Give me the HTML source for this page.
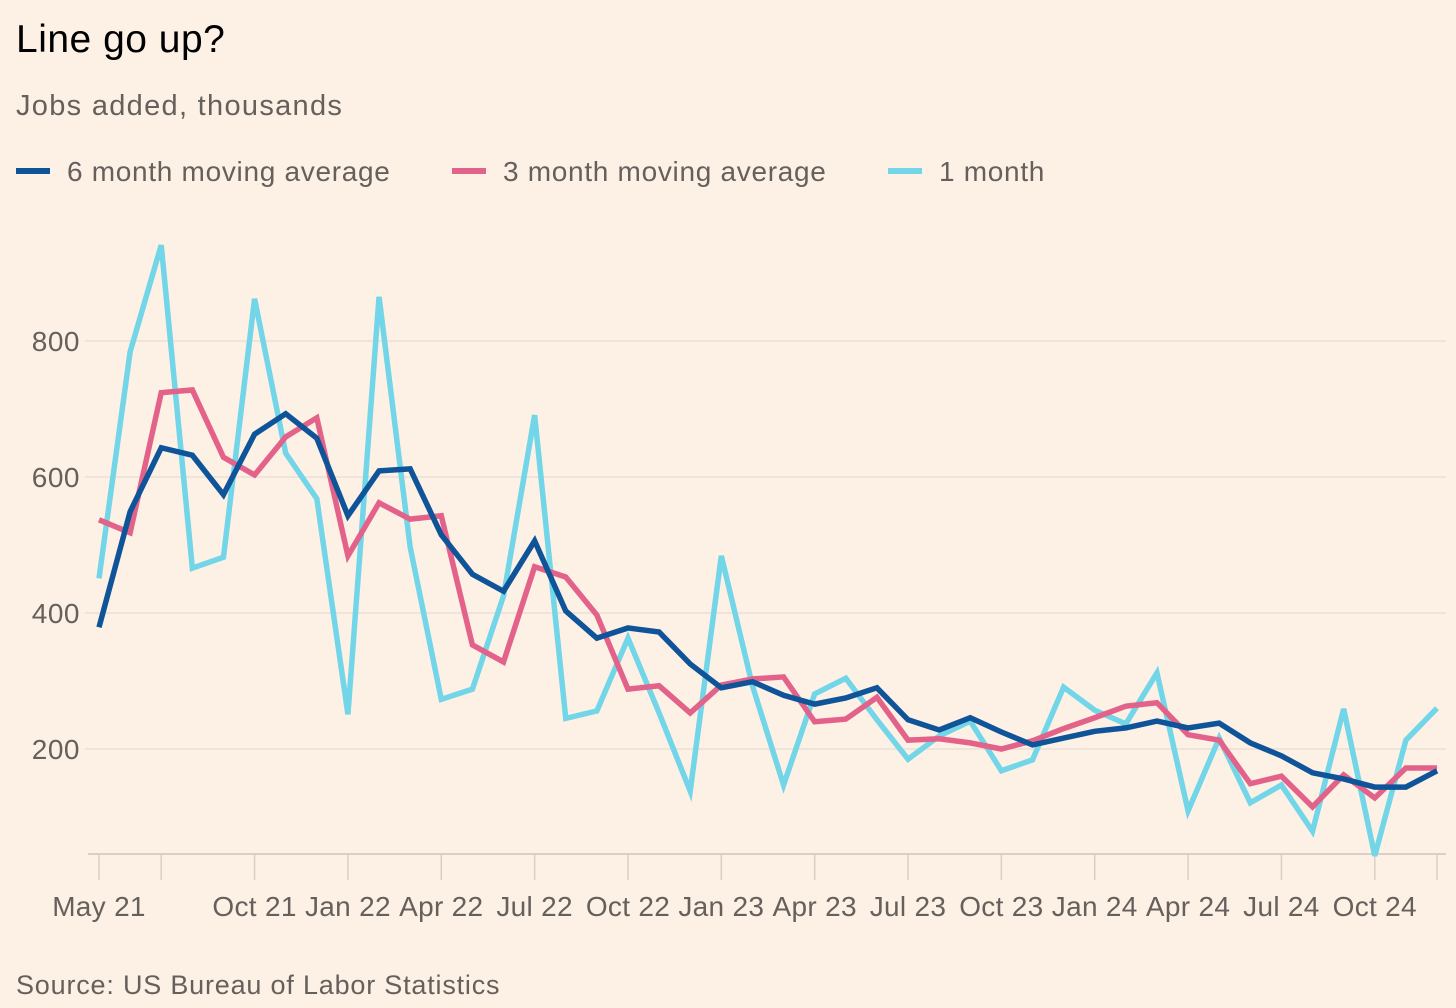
<!DOCTYPE html>
<html><head><meta charset="utf-8"><style>
body{margin:0;background:#fdf1e6;width:1456px;height:1008px;overflow:hidden;font-family:"Liberation Sans",sans-serif}
svg{position:absolute;left:0;top:0}
</style></head><body>
<svg id="c" width="1456" height="1008">
<text x="16" y="52" font-size="39" letter-spacing="0.5" fill="#000">Line go up?</text>
<text x="16" y="115" font-size="29" letter-spacing="1.3" fill="#66605c">Jobs added, thousands</text>
<g>
<rect x="16" y="168" width="34" height="6" fill="#0f5499"/>
<text x="67" y="181" font-size="28" letter-spacing="0.7" fill="#66605c">6 month moving average</text>
<rect x="452" y="168" width="34" height="6" fill="#e3628a"/>
<text x="503" y="181" font-size="28" letter-spacing="0.7" fill="#66605c">3 month moving average</text>
<rect x="888" y="168" width="34" height="6" fill="#72d6e8"/>
<text x="939" y="181" font-size="28" letter-spacing="0.7" fill="#66605c">1 month</text>
</g>
<g id="grid"></g><g id="lines"></g>
<text x="16" y="994" font-size="27" letter-spacing="0.8" fill="#66605c">Source: US Bureau of Labor Statistics</text>
</svg>
<script>
const oneMonth=[451,784,941,466,482,862,635,568,251,865,497,273,288,425,691,245,256,363,253,138,484,293,147,281,304,243,185,219,241,168,184,291,257,237,312,109,216,121,147,79,259,43,213,260];
const threeMonth=[537,518,724,728,629,603,659,687,484,562,538,543,353,328,468,453,397,288,293,253,294,303,306,240,244,276,213,215,209,200,212,230,246,263,268,221,213,149,160,115,162,128,172,172];
const sixMonth=[379,549,643,632,574,663,693,657,543,609,612,515,457,432,506,403,363,378,372,325,290,299,279,266,275,290,243,228,246,225,206,216,226,231,241,231,238,209,190,165,156,144,144,168];
const yTicks=[200,400,600,800];
const xTickIdx=[0,2,5,8,11,14,17,20,23,26,29,32,35,38,41,43];
const xLabels=[[0,"May 21"],[5,"Oct 21"],[8,"Jan 22"],[11,"Apr 22"],[14,"Jul 22"],[17,"Oct 22"],[20,"Jan 23"],[23,"Apr 23"],[26,"Jul 23"],[29,"Oct 23"],[32,"Jan 24"],[35,"Apr 24"],[38,"Jul 24"],[41,"Oct 24"]];
const NS="http://www.w3.org/2000/svg";
const x=i=>99+i*(1437-99)/43;
const y=v=>885-v*0.68;
const g=document.getElementById('grid'),L=document.getElementById('lines');
function mk(t,a,p){const e=document.createElementNS(NS,t);for(const k in a)e.setAttribute(k,a[k]);p.appendChild(e);return e;}
yTicks.forEach(v=>{
 const l=mk('line',{x1:85,x2:1446,y1:y(v),y2:y(v),stroke:'#e9dfd5','stroke-width':1.5},g);
 
 
 const t=mk('text',{x:80,y:y(v)+10,'font-size':28,'letter-spacing':0.5,fill:'#66605c','text-anchor':'end'},g);t.textContent=v;
 
 
});
const ax=mk('line',{x1:88,x2:1446,y1:854,y2:854,stroke:'#d9cfc5','stroke-width':2},g);


xTickIdx.forEach(i=>{
 const l=mk('line',{x1:x(i),x2:x(i),y1:854,y2:880,stroke:'#d9cfc5','stroke-width':1.5},g);
 
 
});
xLabels.forEach(([i,s])=>{
 const t=mk('text',{x:x(i),y:916,'font-size':28,'letter-spacing':0.3,fill:'#66605c','text-anchor':'middle'},g);t.textContent=s;
 
 
});
[[oneMonth,'#72d6e8','line-1-month'],[threeMonth,'#e3628a','line-3-month-average'],[sixMonth,'#0f5499','line-6-month-average']].forEach(([d,c,n])=>{
 const p=mk('polyline',{points:d.map((v,i)=>x(i)+','+y(v)).join(' '),fill:'none',stroke:c,'stroke-width':5.5,'stroke-linejoin':'miter'},L);
 
 
});
</script>
</body></html>
